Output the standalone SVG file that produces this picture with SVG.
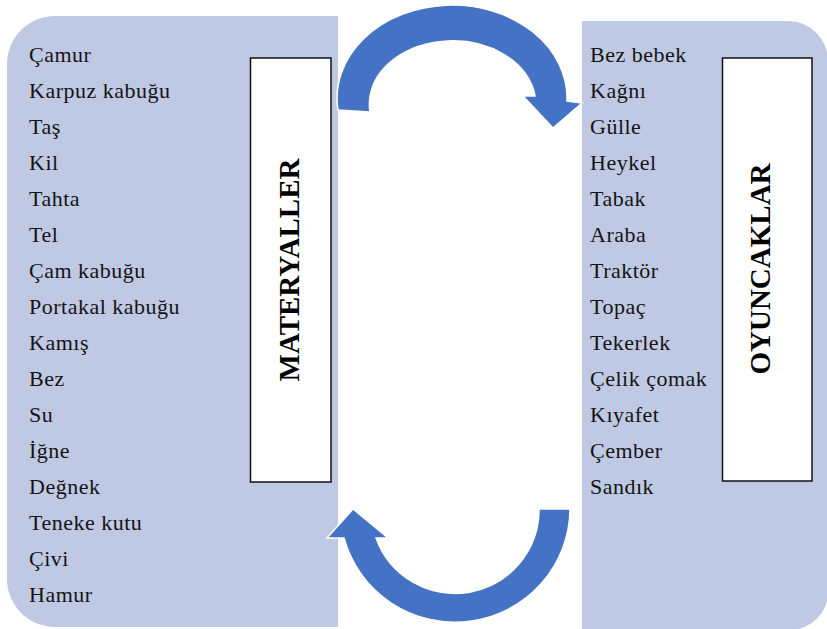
<svg xmlns="http://www.w3.org/2000/svg" width="827" height="629" viewBox="0 0 827 629">
  <style>
    .panel { fill: #BFC9E3; }
    .label-box { fill: #FFFFFF; stroke: #111111; stroke-width: 1.5; }
    .item { font-family: "Liberation Serif", "Times New Roman", serif; font-size: 22px; fill: #141414; letter-spacing: 0.5px; }
    .title { font-family: "Liberation Serif", "Times New Roman", serif; font-size: 29px; font-weight: bold; fill: #000000; text-anchor: middle; }
    .cycle-arrow { fill: #4472C4; stroke: #FFFFFF; stroke-width: 1.5; stroke-linejoin: miter; }
  </style>

  <rect width="827" height="629" fill="#FFFFFF"/>

  <!-- Materials column -->
  <g id="materyaller">
    <path class="panel" d="M55,16 H338 V627 H55 A48,48 0 0 1 7,579 V64 A48,48 0 0 1 55,16 Z"/>
    <rect class="label-box" x="250.5" y="58" width="80.5" height="424"/>
    <text class="title" transform="translate(299,270) rotate(-90)">MATERYALLER</text>
    <text class="item" x="29" y="62">Çamur</text>
    <text class="item" x="29" y="98">Karpuz kabuğu</text>
    <text class="item" x="29" y="134">Taş</text>
    <text class="item" x="29" y="170">Kil</text>
    <text class="item" x="29" y="206">Tahta</text>
    <text class="item" x="29" y="242">Tel</text>
    <text class="item" x="29" y="278">Çam kabuğu</text>
    <text class="item" x="29" y="314">Portakal kabuğu</text>
    <text class="item" x="29" y="350">Kamış</text>
    <text class="item" x="29" y="386">Bez</text>
    <text class="item" x="29" y="422">Su</text>
    <text class="item" x="29" y="458">İğne</text>
    <text class="item" x="29" y="494">Değnek</text>
    <text class="item" x="29" y="530">Teneke kutu</text>
    <text class="item" x="29" y="566">Çivi</text>
    <text class="item" x="29" y="602">Hamur</text>
  </g>

  <!-- Toys column -->
  <g id="oyuncaklar">
    <path class="panel" d="M582,21 H788 A40,40 0 0 1 828,61 V592 A38,38 0 0 1 790,630 H582 Z"/>
    <rect class="label-box" x="722.5" y="58" width="89.5" height="423"/>
    <text class="title" transform="translate(770,269) rotate(-90)">OYUNCAKLAR</text>
    <text class="item" x="590" y="62">Bez bebek</text>
    <text class="item" x="590" y="98">Kağnı</text>
    <text class="item" x="590" y="134">Gülle</text>
    <text class="item" x="590" y="170">Heykel</text>
    <text class="item" x="590" y="206">Tabak</text>
    <text class="item" x="590" y="242">Araba</text>
    <text class="item" x="590" y="278">Traktör</text>
    <text class="item" x="590" y="314">Topaç</text>
    <text class="item" x="590" y="350">Tekerlek</text>
    <text class="item" x="590" y="386">Çelik çomak</text>
    <text class="item" x="590" y="422">Kıyafet</text>
    <text class="item" x="590" y="458">Çember</text>
    <text class="item" x="590" y="494">Sandık</text>
  </g>

  <!-- Cycle arrows between the columns -->
  <g id="connectors">
    <path class="cycle-arrow" d="M338,110 A115,93 0 1 1 567,101 L582,103 L553,128 L523,96 L535,96 A83,63 0 1 0 370,112 Z"/>
    <path class="cycle-arrow" d="M570,509 A115,114 0 0 1 344,538 L327,538 L353,509 L388,538 L376,538 A84,84 0 0 0 539,509 Z"/>
  </g>
</svg>
